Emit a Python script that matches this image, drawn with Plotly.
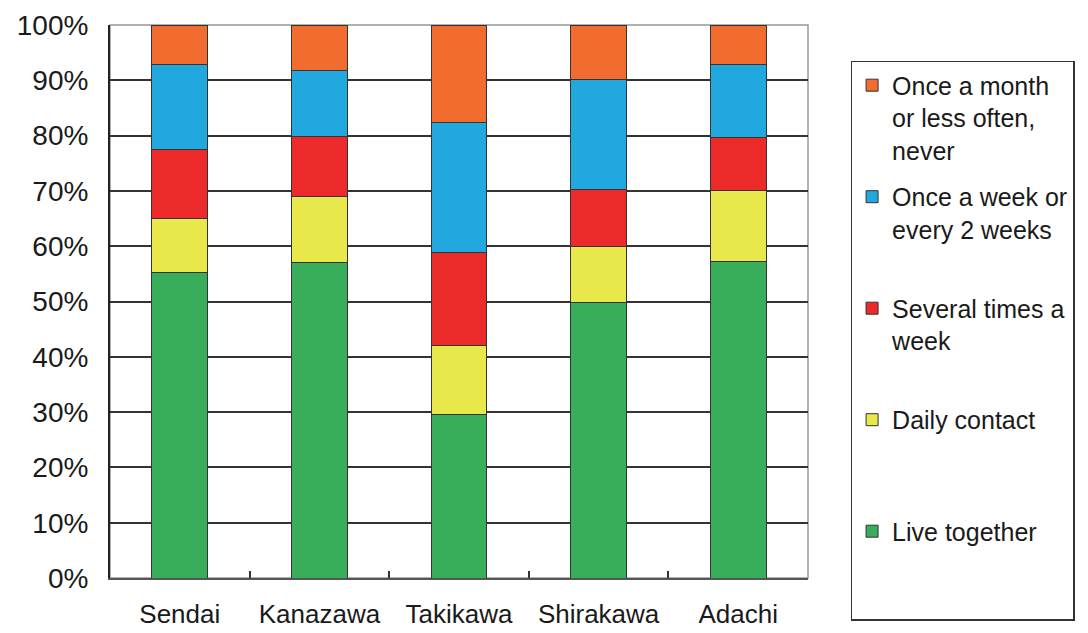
import plotly.graph_objects as go

cities = ["Sendai", "Kanazawa", "Takikawa", "Shirakawa", "Adachi"]

live_together = [55.2, 57.0, 29.5, 49.9, 57.3]
daily_contact = [9.9, 12.0, 12.6, 10.1, 12.7]
several_times_week = [12.3, 10.9, 16.7, 10.2, 9.6]
once_week_2weeks = [15.5, 11.8, 23.5, 20.0, 13.3]
once_month_never = [7.1, 8.3, 17.7, 9.8, 7.1]

series_names = [
    "Live together<br> <br> ",
    "Daily contact<br> <br> ",
    "Several times a<br>week<br> ",
    "Once a week or<br>every 2 weeks<br> ",
    "Once a month<br>or less often,<br>never",
]
series_values = [live_together, daily_contact, several_times_week,
                 once_week_2weeks, once_month_never]
series_colors = ["#38AD5A", "#E8E84A", "#EC2A2A", "#21A8DF", "#F26B2F"]

y_ticks = [0, 10, 20, 30, 40, 50, 60, 70, 80, 90, 100]
y_tick_labels = [f"{v}%" for v in y_ticks]

fig = go.Figure()
n = len(series_names)
for i, (name, vals, col) in enumerate(zip(series_names, series_values, series_colors)):
    fig.add_trace(go.Bar(
        x=cities, y=vals, name=name, legendgroup=f"g{i}",
        legendrank=n - i,
        marker=dict(color=col, line=dict(color="#333333", width=1)),
        width=0.4,
    ))

FONT = "Liberation Sans, Arial, sans-serif"

fig.update_layout(
    barmode="stack",
    width=1088, height=633,
    margin=dict(l=110, r=280, t=25, b=55, autoexpand=False),
    paper_bgcolor="white", plot_bgcolor="white",
    font=dict(family=FONT, color="#1a1a1a"),
    showlegend=True,
    legend=dict(
        x=1.061, y=0.935, xanchor="left", yanchor="top",
        traceorder="grouped", tracegroupgap=11,
        valign="top", maxheight=633,
        font=dict(size=25, family=FONT, color="#1a1a1a"),
        bordercolor="#333333", borderwidth=1.5, bgcolor="white",
        itemwidth=30,
    ),
    xaxis=dict(
        type="category",
        showline=True, linecolor="#555555", linewidth=2,
        ticks="inside", tickson="boundaries", ticklen=7, tickcolor="#333333", tickwidth=1.5,
        showgrid=False,
        tickfont=dict(size=26, family=FONT, color="#1a1a1a"),
        ticklabelstandoff=12,
    ),
    yaxis=dict(
        range=[0, 100],
        tickvals=y_ticks, ticktext=y_tick_labels,
        showline=True, linecolor="#222222", linewidth=2,
        showgrid=True, gridcolor="#333333", gridwidth=1.5,
        ticks="", zeroline=False,
        tickfont=dict(size=28, family=FONT, color="#1a1a1a"),
        ticklabelstandoff=14,
    ),
    shapes=[dict(type="rect", xref="paper", yref="paper", x0=0, x1=1, y0=0, y1=1,
                 line=dict(color="#999999", width=1.5), layer="below")],
)

fig.write_html("out.html", config={"displayModeBar": False},
               post_script="document.body.style.margin='0';document.body.style.overflow='hidden';")
